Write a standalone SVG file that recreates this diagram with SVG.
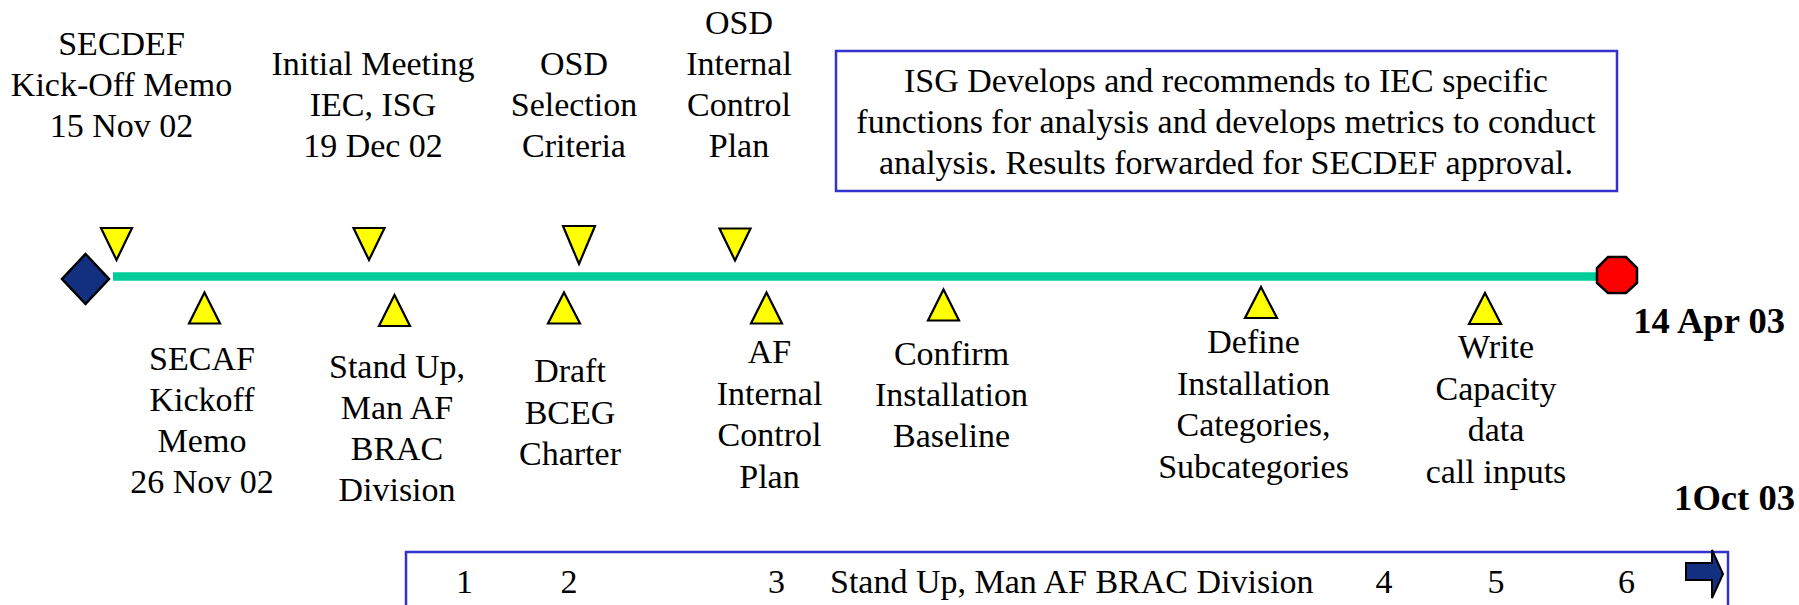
<svg xmlns="http://www.w3.org/2000/svg" width="1799" height="605" viewBox="0 0 1799 605">
<style>
  text { font-family: "Liberation Serif", "Times New Roman", serif; font-size: 34px; fill: #000; }
  .c { text-anchor: middle; }
  .b { font-weight: bold; font-size: 36.6px; text-anchor: end; }
  .tri { fill: #ffff00; stroke: #000; stroke-width: 2.2; stroke-linejoin: miter; }
  .box { fill: #fff; stroke: #3333cc; stroke-width: 2.5; }
</style>
<rect width="1799" height="605" fill="#fff"/>

<g id="connectors">
  <line x1="113" y1="276.5" x2="1598" y2="276.5" stroke="#00cc99" stroke-width="8.5"/>
</g>

<g id="start">
  <polygon points="85.5,254 109,279 85.5,304 62,279" fill="#12307f" stroke="#000" stroke-width="2.5"/>
</g>
<g id="end">
  <polygon points="1608,257 1626,257 1637,268 1637,283 1626,293 1608,293 1597,283 1597,268" fill="#ff0000" stroke="#000" stroke-width="2.5"/>
  <text class="b" x="1785" y="333">14 Apr 03</text>
</g>
<g id="end2">
  <text class="b" x="1795" y="510">1Oct 03</text>
</g>

<g id="m-secdef">
  <polygon class="tri" points="101,228 132,228 116.5,260"/>
  <text class="c" x="121.5" y="55">SECDEF</text>
  <text class="c" x="121.5" y="96">Kick-Off Memo</text>
  <text class="c" x="121.5" y="137">15 Nov 02</text>
</g>
<g id="m-initial">
  <polygon class="tri" points="353.5,228 384.5,228 369,260"/>
  <text class="c" x="373" y="75">Initial Meeting</text>
  <text class="c" x="373" y="116">IEC, ISG</text>
  <text class="c" x="373" y="157">19 Dec 02</text>
</g>
<g id="m-osd-sel">
  <polygon class="tri" points="563,226 595,226 579,264"/>
  <text class="c" x="574" y="75">OSD</text>
  <text class="c" x="574" y="116">Selection</text>
  <text class="c" x="574" y="157">Criteria</text>
</g>
<g id="m-osd-icp">
  <polygon class="tri" points="719.5,228.5 750.5,228.5 735,260.5"/>
  <text class="c" x="739" y="34">OSD</text>
  <text class="c" x="739" y="75">Internal</text>
  <text class="c" x="739" y="116">Control</text>
  <text class="c" x="739" y="157">Plan</text>
</g>
<g id="isg-box">
  <rect class="box" x="836" y="51" width="781" height="140"/>
  <text class="c" x="1226" y="92">ISG Develops and recommends to IEC specific</text>
  <text class="c" x="1226" y="133">functions for analysis and develops metrics to conduct</text>
  <text class="c" x="1226" y="174">analysis. Results forwarded for SECDEF approval.</text>
</g>

<g id="m-secaf">
  <polygon class="tri" points="204.5,292.5 220,323.5 189,323.5"/>
  <text class="c" x="202" y="370">SECAF</text>
  <text class="c" x="202" y="411">Kickoff</text>
  <text class="c" x="202" y="452">Memo</text>
  <text class="c" x="202" y="493">26 Nov 02</text>
</g>
<g id="m-standup">
  <polygon class="tri" points="394.5,295 410,326 379,326"/>
  <text class="c" x="397" y="378">Stand Up,</text>
  <text class="c" x="397" y="419">Man AF</text>
  <text class="c" x="397" y="460">BRAC</text>
  <text class="c" x="397" y="501">Division</text>
</g>
<g id="m-draft">
  <polygon class="tri" points="564,292.5 580,323.5 548,323.5"/>
  <text class="c" x="570" y="382">Draft</text>
  <text class="c" x="570" y="424">BCEG</text>
  <text class="c" x="570" y="465">Charter</text>
</g>
<g id="m-af-icp">
  <polygon class="tri" points="766.5,292.5 782,323.5 751,323.5"/>
  <text class="c" x="769.5" y="363">AF</text>
  <text class="c" x="769.5" y="405">Internal</text>
  <text class="c" x="769.5" y="446">Control</text>
  <text class="c" x="769.5" y="488">Plan</text>
</g>
<g id="m-confirm">
  <polygon class="tri" points="943.5,289.5 959,320.5 928,320.5"/>
  <text class="c" x="951.5" y="365">Confirm</text>
  <text class="c" x="951.5" y="406">Installation</text>
  <text class="c" x="951.5" y="447">Baseline</text>
</g>
<g id="m-define">
  <polygon class="tri" points="1261,287 1277,318 1245,318"/>
  <text class="c" x="1253.5" y="353">Define</text>
  <text class="c" x="1253.5" y="395">Installation</text>
  <text class="c" x="1253.5" y="436">Categories,</text>
  <text class="c" x="1253.5" y="478">Subcategories</text>
</g>
<g id="m-write">
  <polygon class="tri" points="1485,293 1501,324 1469,324"/>
  <text class="c" x="1496" y="358">Write</text>
  <text class="c" x="1496" y="400">Capacity</text>
  <text class="c" x="1496" y="441">data</text>
  <text class="c" x="1496" y="483">call inputs</text>
</g>

<g id="bottom-bar">
  <rect class="box" x="406" y="552" width="1322" height="70"/>
  <text class="c" x="464.5" y="593">1</text>
  <text class="c" x="569" y="593">2</text>
  <text class="c" x="776.5" y="593">3</text>
  <text x="830" y="593">Stand Up, Man AF BRAC Division</text>
  <text class="c" x="1384" y="593">4</text>
  <text class="c" x="1496" y="593">5</text>
  <text class="c" x="1626.5" y="593">6</text>
  <polygon points="1686,563 1712,563 1712,550 1723,574 1712,598 1712,580 1686,580" fill="#12307f" stroke="#000" stroke-width="2"/>
</g>
</svg>
